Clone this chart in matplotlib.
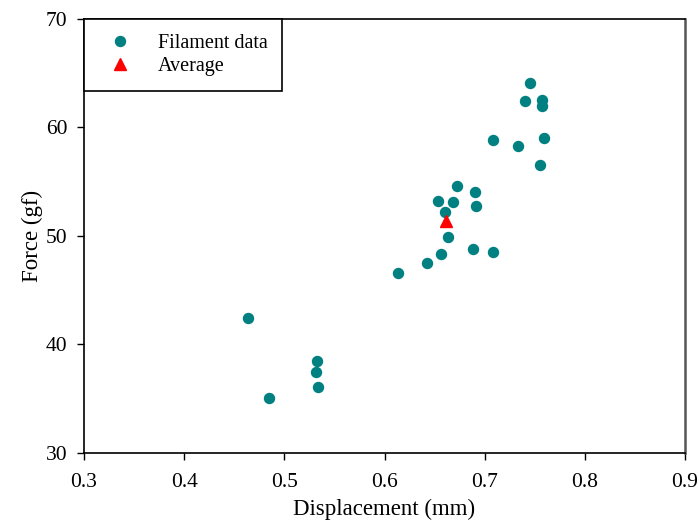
import matplotlib
matplotlib.use("Agg")
from matplotlib import pyplot as plt

# filament data
displacement = [0.464, 0.485, 0.533, 0.532, 0.534, 0.613, 0.642, 0.656, 0.663,
                0.660, 0.653, 0.668, 0.672, 0.690, 0.691, 0.688, 0.708, 0.708,
                0.733, 0.745, 0.740, 0.757, 0.757, 0.759, 0.755]
force = [42.4, 35.0, 38.4, 37.4, 36.0, 46.6, 47.5, 48.3, 49.9,
         52.2, 53.2, 53.1, 54.6, 54.0, 52.7, 48.8, 48.5, 58.8,
         58.3, 64.1, 62.4, 62.5, 62.0, 59.0, 56.5]
avg_displacement = [0.661]
avg_force = [51.4]

plt.rcParams['font.family'] = ['Liberation Serif', 'DejaVu Serif']

fig = plt.figure(figsize=(6.99, 5.21), dpi=100)
ax = fig.add_axes([84 / 699, 1 - 452.5 / 521, 601 / 699, 433.5 / 521])

ax.plot(displacement, force, 'o', color='#008080', markersize=7.2,
        linestyle='none', label='Filament data')
ax.plot(avg_displacement, avg_force, '^', color='#ff0000', markersize=8.5,
        linestyle='none', label='Average')

ax.set_xlim(0.3, 0.9)
ax.set_ylim(30, 70)
ax.set_xticks([0.3, 0.4, 0.5, 0.6, 0.7, 0.8, 0.9])
ax.set_xticklabels(['0.3', '0.4', '0.5', '0.6', '0.7', '0.8', '0.9'])
ax.set_yticks([30, 40, 50, 60, 70])
ax.tick_params(direction='out', length=5, width=1, labelsize=15.5, colors='black')
ax.tick_params(axis='x', pad=10)
ax.tick_params(axis='y', pad=7)
ax.set_xlabel('Displacement (mm)', fontsize=16.5, labelpad=5)
ax.set_ylabel('Force (gf)', fontsize=16.5, labelpad=2)

for side in ['left', 'top', 'bottom']:
    ax.spines[side].set_linewidth(1.2)
    ax.spines[side].set_color('black')
ax.spines['right'].set_linewidth(1.8)
ax.spines['right'].set_color('#555555')

leg = ax.legend(loc='upper left', bbox_to_anchor=(0, 1), borderaxespad=0,
                fancybox=False, framealpha=1, edgecolor='black', fontsize=14.5,
                handletextpad=0.8, borderpad=0.75, handlelength=2.1,
                labelspacing=0.2, numpoints=1)
leg.get_frame().set_linewidth(1.2)

fig.savefig('out.png', dpi=100)
